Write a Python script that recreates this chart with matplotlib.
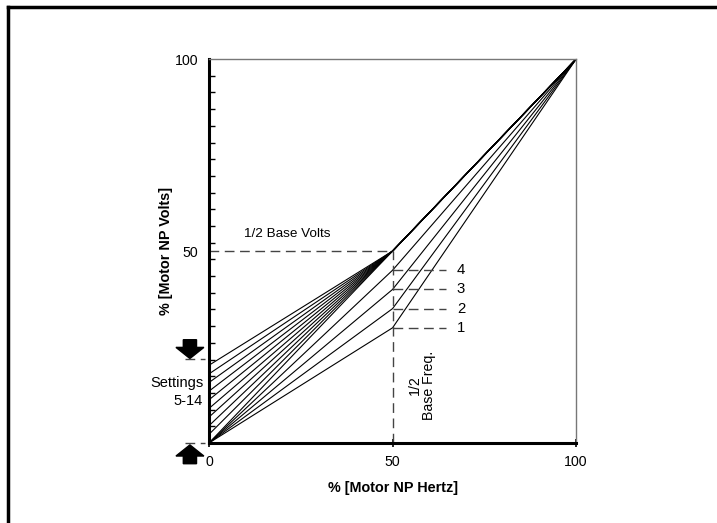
import numpy as np
import matplotlib
matplotlib.use('Agg')
from matplotlib import pyplot as plt
from matplotlib.lines import Line2D
from matplotlib.patches import Polygon

plt.rcParams['font.family'] = ['Liberation Sans', 'DejaVu Sans']

# settings 1-4: straight from origin to a break point at half base freq
low_settings = ['1', '2', '3', '4']
low_break_volts = [30, 35, 40, 45]

# settings 5-14: start offset at 0 Hz, meeting at half base volts
boost_start = [0, 2.25, 4.5, 6.75, 9.0, 11.25, 13.5, 15.75, 18.0, 20.25]
boost_top_marker = 22.0

half_freq = 50
half_volts = 50
full = 100

fs = 10.2

fig = plt.figure(figsize=(7.17, 5.23), dpi=100)
ax = fig.add_axes([0.2915, 0.153, 0.512, 0.734])

# outer frame, only left and top visible
fig.add_artist(Line2D([0.0105, 0.0105], [0, 0.986], color='black', lw=2.5))
fig.add_artist(Line2D([0.0105, 1.0], [0.986, 0.986], color='black', lw=2.5))

lw = 0.8
for v in low_break_volts:
    ax.plot([0, half_freq, full], [0, v, full], color='black', lw=lw)
for s in boost_start:
    ax.plot([0, half_freq, full], [s, half_volts, full], color='black', lw=lw)

dash = dict(color='#444444', lw=1.0, dashes=(7, 4))
ax.plot([0, half_freq], [half_volts, half_volts], **dash)
ax.plot([half_freq, half_freq], [0, half_volts], **dash)
for name, v in zip(low_settings, low_break_volts):
    ax.plot([half_freq, 64.5], [v, v], **dash)
    ax.text(67.5, v, name, ha='left', va='center', fontsize=fs + 0.5)

# settings bracket markers left of the axis
ax.plot([-6.5, -1], [boost_top_marker, boost_top_marker], clip_on=False, **dash)
ax.plot([-6.5, -1], [0, 0], clip_on=False, **dash)

def block_arrow(xc, tip, direction):
    hw, sw, hl, sl = 3.8, 1.8, 2.9, 2.0
    d = direction
    pts = [(xc, tip), (xc - hw, tip - d * hl), (xc - sw, tip - d * hl),
           (xc - sw, tip - d * (hl + sl)), (xc + sw, tip - d * (hl + sl)),
           (xc + sw, tip - d * hl), (xc + hw, tip - d * hl)]
    ax.add_patch(Polygon(pts, closed=True, color='black', clip_on=False))

block_arrow(-5.2, boost_top_marker, -1)
block_arrow(-5.2, -0.5, 1)

ax.text(-1.6, 13.3, 'Settings\n5-14', ha='right', va='center', fontsize=fs + 0.3,
        linespacing=1.3)
ax.text(21.3, 54.4, '1/2 Base Volts', ha='center', va='center', fontsize=fs - 0.5)
ax.text(58.0, 15.1, '1/2\nBase Freq.', ha='center', va='center', fontsize=fs,
        rotation=90, linespacing=1.05)

ax.set_xlim(0, full)
ax.set_ylim(0, full)
ax.set_xticks([0, 50, 100])
ax.set_xticklabels(['0', '50', '100'], fontsize=fs)
ax.set_yticks([50, 100])
ax.set_yticklabels(['50', '100'], fontsize=fs)
ax.set_yticks(np.arange(0, 24) * 100 / 23, minor=True)
ax.tick_params(axis='y', which='major', length=0, pad=8)
ax.tick_params(axis='y', which='minor', direction='in', length=4, width=1)
ax.tick_params(axis='x', which='major', direction='inout', length=6, width=1.2, pad=6)

ax.spines['left'].set_linewidth(2.2)
ax.spines['bottom'].set_linewidth(2.2)
for side in ['top', 'right']:
    ax.spines[side].set_color('#777777')
    ax.spines[side].set_linewidth(1.0)

ax.set_xlabel('% [Motor NP Hertz]', fontsize=10.4, fontweight='bold', labelpad=8)
ax.set_ylabel('% [Motor NP Volts]', fontsize=10.4, fontweight='bold')
ax.yaxis.set_label_coords(-0.098, 0.5)

fig.savefig('out.png', dpi=100)
